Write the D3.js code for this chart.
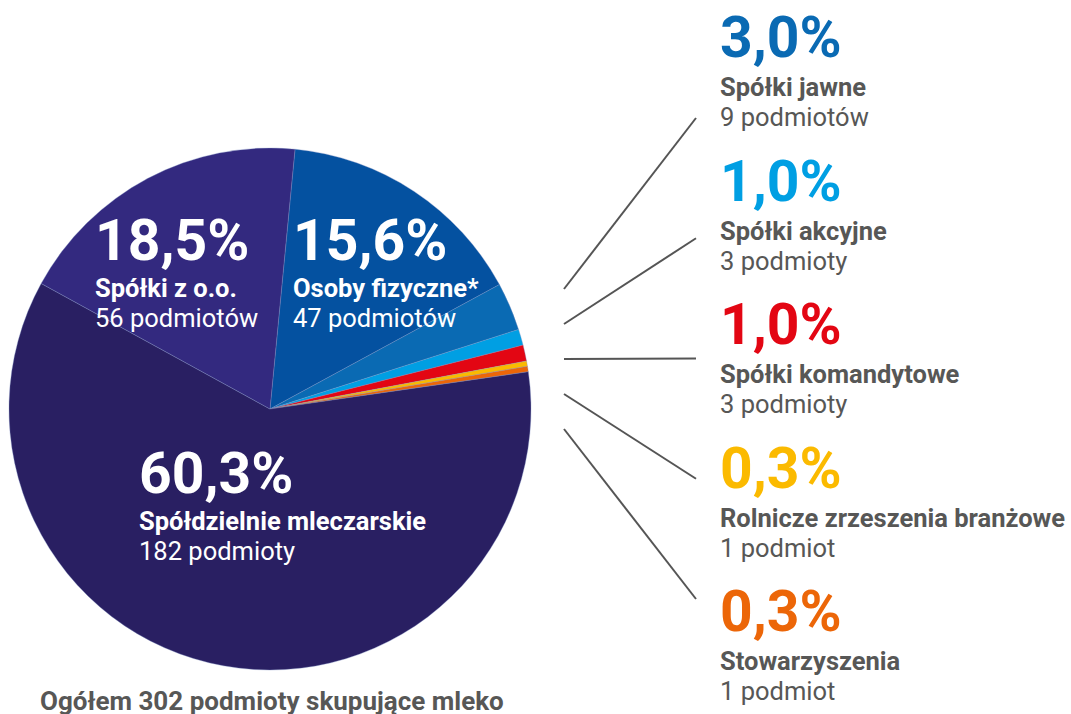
<!DOCTYPE html>
<html>
<head>
<meta charset="utf-8">
<script src="https://cdn.jsdelivr.net/npm/d3@7"></script>
<style>
  body { margin: 0; background: #fff; }
  svg { display: block; font-family: Roboto, "Open Sans", sans-serif; }
</style>
</head>
<body>
<svg id="chart" width="1071" height="714"></svg>
<script>
// values
const categories = ["Osoby fizyczne*", "Spółki jawne", "Spółki akcyjne", "Spółki komandytowe",
    "Rolnicze zrzeszenia branżowe", "Stowarzyszenia", "Spółdzielnie mleczarskie", "Spółki z o.o."];
const counts = [47, 9, 3, 3, 1, 1, 182, 56];
const countLabels = ["47 podmiotów", "9 podmiotów", "3 podmioty", "3 podmioty",
    "1 podmiot", "1 podmiot", "182 podmioty", "56 podmiotów"];
const totalLabel = "Ogółem 302 podmioty skupujące mleko";

const palette = ["#0451a0", "#0a6ab3", "#009fe3", "#e30613", "#fbba00", "#ec6608", "#291f62", "#33297f"];

const width = 1071, height = 714;
const cx = 270, cy = 409, radius = 261;

const pl = d3.formatLocale({decimal: ",", thousands: " ", grouping: [3], currency: ["", ""]});
const fmt = pl.format(".1f");
const total = d3.sum(counts);

const data = categories.map(function (c, i) {
    return {name: c, value: counts[i], count: countLabels[i], pct: fmt(counts[i] / total * 100) + "%"};
});

const color = d3.scaleOrdinal().domain(categories).range(palette);

const svg = d3.select("#chart");

const start = 5.5 * Math.PI / 180;
const pie = d3.pie()
    .sort(null)
    .value(function (d) { return d.value; })
    .startAngle(start)
    .endAngle(start + 2 * Math.PI);

const arc = d3.arc().innerRadius(0).outerRadius(radius);

const g = svg.append("g")
    .attr("transform", "translate(" + cx + "," + cy + ")");

g.selectAll("path")
    .data(pie(data))
    .enter().append("path")
    .attr("d", arc)
    .attr("fill", function (d) { return color(d.data.name); })
    .attr("stroke", "#7f8fc4")
    .attr("stroke-width", 0.5)
    .attr("stroke-opacity", 0.7);

// labels inside the big slices
const inside = {
    "Spółki z o.o.": [95, 260],
    "Osoby fizyczne*": [293, 260],
    "Spółdzielnie mleczarskie": [139, 493]
};

const big = data.filter(function (d) { return inside[d.name]; });
const ig = svg.selectAll("g.inner")
    .data(big)
    .enter().append("g")
    .attr("class", "inner")
    .attr("transform", function (d) { return "translate(" + inside[d.name][0] + "," + inside[d.name][1] + ")"; })
    .attr("fill", "#fff");

ig.append("text")
    .attr("font-size", 57).attr("font-weight", 700)
    .text(function (d) { return d.pct; });
ig.append("text")
    .attr("x", 0).attr("y", 37)
    .attr("font-size", 25.5).attr("font-weight", 700)
    .text(function (d) { return d.name; });
ig.append("text")
    .attr("x", 0).attr("y", 67)
    .attr("font-size", 25.5).attr("font-weight", 400)
    .text(function (d) { return d.count; });

// small slices: labels on the right with leader lines
const small = data.filter(function (d) { return !inside[d.name]; });
const labelY = d3.scaleLinear().domain([0, small.length - 1]).range([57, 631]);
const lineInner = d3.scaleLinear().domain([0, small.length - 1]).range([289, 429]);
const lineOuter = d3.scaleLinear().domain([0, small.length - 1]).range([118, 599]);

svg.selectAll("line.leader")
    .data(small)
    .enter().append("line")
    .attr("class", "leader")
    .attr("x1", 564)
    .attr("y1", function (d, i) { return lineInner(i); })
    .attr("x2", 696)
    .attr("y2", function (d, i) { return lineOuter(i); })
    .attr("stroke", "#555")
    .attr("stroke-width", 2);

const og = svg.selectAll("g.outer")
    .data(small)
    .enter().append("g")
    .attr("class", "outer")
    .attr("transform", function (d, i) { return "translate(720," + labelY(i) + ")"; });

og.append("text")
    .attr("font-size", 57).attr("font-weight", 700)
    .attr("fill", function (d) { return color(d.name); })
    .text(function (d) { return d.pct; });
og.append("text")
    .attr("x", 0).attr("y", 39)
    .attr("font-size", 25.5).attr("font-weight", 700)
    .attr("fill", "#575756")
    .text(function (d) { return d.name; });
og.append("text")
    .attr("x", 0).attr("y", 69)
    .attr("font-size", 25.5).attr("font-weight", 400)
    .attr("fill", "#575756")
    .text(function (d) { return d.count; });

svg.append("text")
    .attr("x", 40).attr("y", 710)
    .attr("font-size", 26).attr("font-weight", 700)
    .attr("fill", "#575756")
    .text(totalLabel);
</script>
</body>
</html>
